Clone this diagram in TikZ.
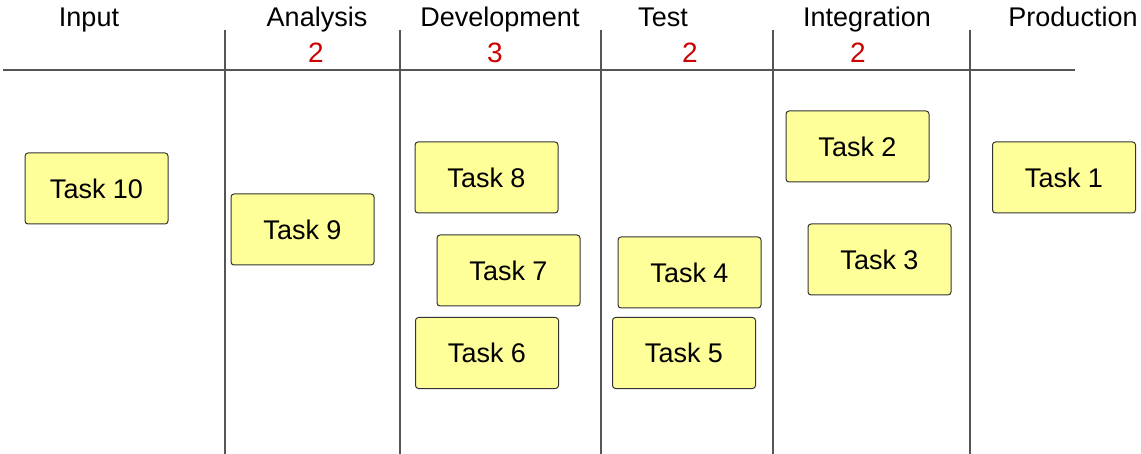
\documentclass[tikz,border=0pt]{standalone}
\usepackage{fontspec}
\setmainfont{Liberation Sans}
\definecolor{cardfill}{HTML}{FFFF99}
\definecolor{cardedge}{HTML}{333333}
\definecolor{limitred}{HTML}{CC0000}
\definecolor{gridgray}{HTML}{555555}
\begin{document}
\begin{tikzpicture}[x=1pt,y=-1pt,
  card/.style={draw=cardedge,fill=cardfill,line width=1pt,rounded corners=3pt,
    minimum width=143pt,minimum height=71pt,inner sep=0pt,
    font=\fontsize{27}{30}\selectfont},
  header/.style={font=\fontsize{27}{30}\selectfont,inner sep=0pt,anchor=base},
  limit/.style={font=\fontsize{28}{31}\selectfont,text=limitred,inner sep=0pt,anchor=base},
  grid/.style={draw=gridgray,line width=1.2pt}]
\useasboundingbox (0,0) rectangle (1141,454);

% board rules
\coordinate (hl) at (3,70);
\coordinate (hr) at (1075,70);
\draw[grid] (hl) -- (hr);
\foreach \x/\n in {225/a,400/b,601/c,773/d,970/e}{
  \coordinate (t\n) at (\x,30);
  \coordinate (b\n) at (\x,454);
  \draw[grid] (t\n) -- (b\n);
}

% column headers
\node[header] (hInput) at (89,27) {Input};
\node[header] (hAnalysis) at (317,27) {Analysis};
\node[header] (hDev) at (500,27) {Development};
\node[header] (hTest) at (663,27) {Test};
\node[header] (hInt) at (867,27) {Integration};
\node[header] (hProd) at (1073,27) {Production};

% WIP limits
\node[limit] (lAnalysis) at (316,63) {2};
\node[limit] (lDev) at (495,63) {3};
\node[limit] (lTest) at (690,63) {2};
\node[limit] (lInt) at (858,63) {2};

% task cards
\node[card] (t10) at (96.5,188.5) {Task 10};
\node[card] (t9) at (302.5,229.5) {Task 9};
\node[card] (t8) at (486.5,177.5) {Task 8};
\node[card] (t7) at (508.5,270.5) {Task 7};
\node[card] (t6) at (487,353) {Task 6};
\node[card] (t4) at (689.5,272.5) {Task 4};
\node[card] (t5) at (684,353) {Task 5};
\node[card] (t2) at (857.5,146.5) {Task 2};
\node[card] (t3) at (879.5,259.5) {Task 3};
\node[card] (t1) at (1064,177.5) {Task 1};
\end{tikzpicture}
\end{document}
